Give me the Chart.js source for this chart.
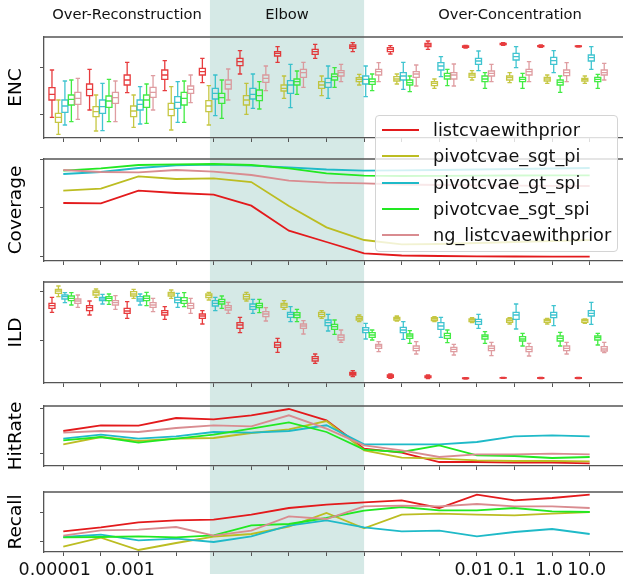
<!DOCTYPE html>
<html>
<head>
<meta charset="utf-8">
<script src="https://cdn.jsdelivr.net/npm/chart.js@4.4.1/dist/chart.umd.min.js"></script>
<style>
body { margin: 0; background: #fff; }
#fig { position: relative; width: 623px; height: 585px; overflow: hidden; font-family: "DejaVu Sans", sans-serif; }
#fig canvas { position: absolute; left: 0; }
#legend { position: absolute; left: 375px; top: 115px; width: 243px; height: 137px; box-sizing: border-box;
  background: rgba(255,255,255,0.8); border: 1px solid #d4d4d4; border-radius: 4px; z-index: 5; }
.item { position: absolute; left: 0; height: 22px; line-height: 22px; font-size: 17.7px; color: #111; white-space: nowrap; }
.item .swatch { position: absolute; left: 6px; top: 10px; width: 37px; border-top: 2px solid; }
.item .txt { position: absolute; left: 57px; top: 0; }
</style>
</head>
<body>
<div id="fig">
  <canvas id="c_enc" width="623" height="148" style="top:0px"></canvas>
  <canvas id="c_cov" width="623" height="123" style="top:148px"></canvas>
  <canvas id="c_ild" width="623" height="123" style="top:271px"></canvas>
  <canvas id="c_hit" width="623" height="84" style="top:394px"></canvas>
  <canvas id="c_rec" width="623" height="107" style="top:478px"></canvas>
  <div id="legend"></div>
</div>
<script>
// series
const seriesNames = ["listcvaewithprior", "pivotcvae_sgt_pi", "pivotcvae_gt_spi", "pivotcvae_sgt_spi", "ng_listcvaewithprior"];
const seriesColors = ["#e31a1c", "#bcbd22", "#1fbac8", "#22e822", "#d98c90"];

// x axis: 15 settings, only some labelled
const xPositions = [0, 1, 2, 3, 4, 5, 6, 7, 8, 9, 10, 11, 12, 13, 14];
const xTickLabels = ["0.00001  ", "", "0.001  ", "", "", "", "", "", "", "", "", "0.01", "0.1", "1.0", "10.0"];

// regimes along x (in x units)
const phaseNames = ["Over-Reconstruction", "Elbow", "Over-Concentration"];
const phaseBounds = [-0.513, 3.9, 8.0, 15.76];

// ENC boxes: [low whisker, q1, median, q3, high whisker]
const encListcvae = [
  [2.07,3.8,4.37,5.03,6.8],[2.8,4.23,4.87,5.4,6.87],[4.53,5.3,5.8,6.3,7.57],[4.73,5.87,6.3,6.8,7.73],
  [5.53,6.3,6.63,6.97,7.97],[6.4,7.23,7.63,7.97,8.73],[7.57,8.2,8.47,8.63,9.13],[7.97,8.37,8.63,8.87,9.37],
  [8.63,8.97,9.13,9.3,9.53],[8.4,8.63,8.87,9.03,9.23],[8.87,9.13,9.3,9.47,9.7],[9.0,9.07,9.13,9.2,9.27],
  [9.27,9.33,9.4,9.47,9.53],[9.07,9.13,9.2,9.23,9.3],[9.1,9.13,9.17,9.2,9.23]
];
const encSgtPi = [
  [0.37,1.57,2.07,2.47,3.8],[0.7,2.13,2.63,3.13,4.3],[1.07,2.13,2.7,3.2,4.3],[0.8,2.23,2.87,3.47,5.13],
  [1.3,2.63,3.2,3.73,5.23],[2.37,3.3,3.8,4.23,5.47],[3.97,4.7,4.97,5.3,6.2],[4.23,4.97,5.3,5.63,6.2],
  [5.3,5.63,5.87,6.03,6.37],[5.4,5.7,5.9,6.13,6.4],[4.97,5.23,5.47,5.63,5.9],[5.8,6.07,6.3,6.47,6.73],
  [5.53,5.8,6.03,6.2,6.53],[5.47,5.7,5.9,6.07,6.3],[5.47,5.7,5.87,5.97,6.2]
];
const encGtSpi = [
  [1.3,2.57,3.2,3.8,5.7],[0.73,2.47,3.13,3.8,5.47],[1.4,2.8,3.37,3.8,5.13],[1.57,2.97,3.57,4.13,5.63],
  [2.23,3.9,4.47,4.97,6.3],[2.97,3.9,4.37,4.97,6.4],[3.03,4.47,5.3,5.73,7.37],[3.97,5.07,5.53,5.97,7.2],
  [4.13,5.4,5.87,6.2,7.2],[4.87,5.8,6.2,6.53,7.57],[6.13,6.8,7.2,7.53,8.13],[6.73,7.37,7.7,7.97,8.7],
  [7.03,7.8,8.13,8.47,9.13],[6.53,7.37,7.73,8.07,8.73],[6.87,7.7,8.03,8.3,9.13]
];
const encSgtSpi = [
  [1.63,3.3,3.87,4.3,5.8],[1.63,3.07,3.7,4.2,5.87],[1.47,3.07,3.8,4.3,5.4],[1.57,3.3,3.97,4.57,5.7],
  [1.97,3.47,4.03,4.47,5.8],[2.9,3.73,4.23,4.8,5.63],[4.37,5.3,5.63,5.9,6.7],[5.07,5.8,6.13,6.4,7.03],
  [4.73,5.37,5.63,5.9,6.4],[4.63,5.3,5.53,5.8,6.2],[5.23,5.9,6.2,6.47,6.87],[4.97,5.63,5.9,6.2,6.53],
  [4.97,5.63,5.87,6.07,6.47],[4.57,5.3,5.57,5.8,6.2],[4.97,5.63,5.87,6.07,6.37]
];
const encNgListcvae = [
  [1.87,3.37,3.97,4.57,5.97],[1.63,3.47,4.03,4.57,5.7],[2.8,4.07,4.57,5.07,6.23],[3.53,4.47,4.87,5.2,6.3],
  [3.8,4.9,5.37,5.8,6.9],[4.73,5.57,5.97,6.3,7.2],[5.07,6.07,6.53,6.87,7.57],[5.63,6.2,6.53,6.73,7.37],
  [5.63,6.3,6.63,6.87,7.53],[5.2,6.07,6.4,6.63,7.3],[5.2,5.9,6.3,6.53,7.4],[5.63,6.2,6.47,6.7,7.37],
  [5.63,6.3,6.63,6.87,7.63],[5.63,6.23,6.53,6.8,7.53],[5.8,6.3,6.53,6.8,7.47]
];

// Coverage
const covListcvae = [5.8,5.77,7.03,6.8,6.63,5.53,3.03,1.9,0.77,0.55,0.5,0.47,0.45,0.44,0.43];
const covSgtPi = [7.03,7.23,8.47,8.2,8.27,7.9,5.5,3.37,2.1,1.67,1.7,1.8,1.9,2.0,2.1];
const covGtSpi = [8.7,8.9,9.3,9.57,9.63,9.53,9.37,9.15,9.03,9.07,9.1,9.15,9.2,9.25,9.3];
const covSgtSpi = [9.03,9.27,9.6,9.67,9.7,9.6,9.27,8.77,8.53,8.5,8.52,8.54,8.55,8.56,8.57];
const covNgListcvae = [9.1,8.9,8.87,9.1,8.93,8.6,8.03,7.83,7.77,7.65,7.6,7.57,7.54,7.52,7.5];

// ILD boxes
const ildListcvae = [
  [7.07,7.47,7.73,7.97,8.57],[6.8,7.23,7.53,7.73,8.2],[6.47,6.97,7.2,7.47,8.13],[6.37,6.8,7.03,7.23,7.63],
  [5.9,6.47,6.7,6.9,7.23],[5.03,5.47,5.8,6.03,6.57],[3.07,3.57,3.8,4.07,4.47],[1.97,2.2,2.43,2.63,2.9],
  [0.63,0.8,0.93,1.07,1.23],[0.47,0.57,0.7,0.8,0.9],[0.43,0.53,0.63,0.7,0.8],[0.4,0.43,0.47,0.5,0.53],
  [0.47,0.5,0.52,0.53,0.57],[0.44,0.47,0.5,0.53,0.56],[0.44,0.47,0.5,0.53,0.56]
];
const ildSgtPi = [
  [8.63,8.97,9.2,9.37,9.7],[8.57,8.8,9.03,9.2,9.4],[8.47,8.7,8.9,9.13,9.37],[8.47,8.7,8.9,9.07,9.3],
  [8.3,8.53,8.73,8.9,9.07],[8.2,8.4,8.63,8.87,9.07],[7.37,7.57,7.8,7.97,8.23],[6.47,6.63,6.87,7.07,7.23],
  [6.13,6.3,6.47,6.63,6.8],[6.2,6.3,6.47,6.57,6.7],[6.13,6.23,6.4,6.53,6.63],[6.03,6.13,6.3,6.4,6.53],
  [5.9,6.07,6.23,6.4,6.53],[5.9,6.07,6.23,6.37,6.47],[5.97,6.07,6.23,6.37,6.4]
];
const ildGtSpi = [
  [8.03,8.4,8.63,8.8,9.03],[7.9,8.23,8.4,8.57,8.87],[7.8,8.2,8.4,8.63,8.9],[7.57,8.03,8.3,8.57,8.97],
  [7.23,7.7,7.97,8.23,8.57],[6.97,7.37,7.63,7.9,8.37],[6.13,6.57,6.87,7.07,7.63],[5.2,5.73,6.03,6.3,6.87],
  [4.4,5.03,5.3,5.53,5.97],[4.37,5.03,5.3,5.57,6.13],[4.57,5.37,5.7,6.03,6.57],[5.47,5.87,6.13,6.37,6.87],
  [5.4,6.37,6.8,7.07,7.9],[5.73,6.53,6.8,7.07,7.73],[5.87,6.7,6.97,7.23,8.07]
];
const ildSgtSpi = [
  [7.8,8.23,8.47,8.7,9.03],[7.87,8.23,8.47,8.63,8.9],[7.73,8.23,8.47,8.7,9.07],[7.63,7.97,8.23,8.53,9.03],
  [7.47,7.9,8.13,8.37,8.7],[7.03,7.53,7.73,7.97,8.37],[6.13,6.53,6.8,7.03,7.37],[4.87,5.37,5.63,5.87,6.3],
  [4.3,4.57,4.8,5.03,5.3],[3.97,4.47,4.7,4.9,5.23],[4.03,4.47,4.73,4.97,5.3],[3.97,4.4,4.63,4.8,5.13],
  [3.7,4.2,4.4,4.63,4.97],[3.7,4.2,4.47,4.7,5.07],[3.8,4.3,4.53,4.7,4.97]
];
const ildNgListcvae = [
  [7.57,7.97,8.2,8.4,8.8],[7.37,7.8,8.03,8.23,8.73],[7.13,7.57,7.8,8.03,8.47],[6.97,7.47,7.73,7.97,8.47],
  [6.97,7.3,7.53,7.73,8.07],[6.2,6.63,6.9,7.13,7.53],[4.9,5.47,5.7,5.9,6.23],[4.07,4.3,4.57,4.8,5.3],
  [3.13,3.47,3.7,3.87,4.13],[2.9,3.23,3.47,3.7,4.13],[2.8,3.13,3.37,3.57,3.87],[2.73,3.23,3.47,3.7,4.07],
  [2.7,3.13,3.37,3.63,3.97],[2.9,3.23,3.47,3.7,4.07],[3.03,3.2,3.4,3.63,4.07]
];

// HitRate
const hitListcvae = [3.5,4.07,4.04,4.8,4.67,5.07,5.7,4.57,1.74,1.34,0.4,0.4,0.34,0.34,0.27];
const hitSgtPi = [2.17,2.9,2.5,2.74,2.8,3.3,3.67,4.5,1.57,0.84,0.74,0.57,0.5,0.5,0.47];
const hitGtSpi = [2.74,3.14,2.74,2.97,3.4,3.34,3.5,4.07,2.17,2.17,2.17,2.4,2.97,3.07,2.97];
const hitSgtSpi = [2.57,2.9,2.34,2.74,3.14,3.74,4.37,3.4,1.64,1.4,2.07,1.07,1.0,0.8,0.9];
const hitNgListcvae = [3.34,3.5,3.4,3.8,4.07,3.97,5.07,3.74,2.07,1.57,0.9,1.17,1.17,1.24,1.17];

// Recall
const recListcvae = [2.06,2.46,2.96,3.16,3.23,3.73,4.4,4.73,4.96,5.16,4.4,5.73,5.16,5.4,5.73];
const recSgtPi = [0.53,1.43,0.2,0.9,1.53,1.8,2.53,3.9,2.36,3.73,3.83,3.73,3.66,3.83,4.0];
const recGtSpi = [1.5,1.73,1.16,1.33,1.0,1.56,2.63,3.16,2.46,2.06,2.13,1.56,2.0,2.3,1.8];
const recSgtSpi = [1.46,1.5,1.56,1.46,1.66,2.66,2.8,3.4,4.13,4.5,4.16,4.16,4.4,4.06,4.0];
const recNgListcvae = [1.63,2.16,2.23,2.5,1.63,2.13,3.56,3.3,4.56,4.63,4.56,4.8,4.56,4.56,4.4];

// unlabelled y ticks per panel
const encTicks = [2.4, 7.1];
const covTicks = [0.43, 5.33, 10.2];
const ildTicks = [4.23, 9.13];
const hitTicks = [1.27, 5.77];
const recTicks = [1.03, 3.93];

Chart.defaults.font.family = "'DejaVu Sans', sans-serif";
Chart.defaults.animation = false;

const spineColor = "#555";
const shadeColor = "rgba(47,143,130,0.2)";
const xMin = -0.513, xMax = 14.886;
const boxStep = 0.172, groupShift = 0.043, boxHalf = 0.08, capHalf = 0.058;

function makePlugins(panel) {
  const list = [];
  list.push({
    id: "elbowShade",
    beforeDraw(chart) {
      const x = chart.scales.x, ctx = chart.ctx;
      const x0 = x.getPixelForValue(phaseBounds[1]);
      const x1 = x.getPixelForValue(phaseBounds[2]);
      ctx.save();
      ctx.fillStyle = shadeColor;
      ctx.fillRect(x0, 0, x1 - x0, panel.shadeBottom || chart.height);
      ctx.restore();
    }
  });
  list.push({
    id: "topSpine",
    afterDraw(chart) {
      const a = chart.chartArea, ctx = chart.ctx;
      ctx.save();
      ctx.strokeStyle = spineColor;
      ctx.lineWidth = 1.3;
      ctx.beginPath();
      ctx.moveTo(a.left, a.top);
      ctx.lineTo(chart.width, a.top);
      ctx.stroke();
      ctx.restore();
    }
  });
  if (panel.boxes) {
    list.push({
      id: "boxPlot",
      afterDatasetsDraw(chart) {
        const x = chart.scales.x, y = chart.scales.y, ctx = chart.ctx;
        ctx.save();
        ctx.lineWidth = 1.3;
        ctx.globalAlpha = 0.85;
        panel.boxes.forEach(function(boxes, s) {
          ctx.strokeStyle = seriesColors[s];
          boxes.forEach(function(b, i) {
            const c = i + groupShift + (s - 2) * boxStep;
            const xc = x.getPixelForValue(c);
            const hw = x.getPixelForValue(c + boxHalf) - xc;
            const cw = x.getPixelForValue(c + capHalf) - xc;
            const lo = y.getPixelForValue(b[0]), q1 = y.getPixelForValue(b[1]);
            const med = y.getPixelForValue(b[2]), q3 = y.getPixelForValue(b[3]);
            const hi = y.getPixelForValue(b[4]);
            ctx.beginPath();
            ctx.moveTo(xc, lo); ctx.lineTo(xc, q1);
            ctx.moveTo(xc, q3); ctx.lineTo(xc, hi);
            ctx.moveTo(xc - cw, lo); ctx.lineTo(xc + cw, lo);
            ctx.moveTo(xc - cw, hi); ctx.lineTo(xc + cw, hi);
            ctx.moveTo(xc - hw, med); ctx.lineTo(xc + hw, med);
            ctx.rect(xc - hw, q3, 2 * hw, q1 - q3);
            ctx.stroke();
          });
        });
        ctx.restore();
      }
    });
  }
  if (panel.phases) {
    list.push({
      id: "phaseTitles",
      afterDraw(chart) {
        const x = chart.scales.x, ctx = chart.ctx;
        ctx.save();
        ctx.fillStyle = "#111";
        ctx.font = "14.7px 'DejaVu Sans'";
        ctx.textAlign = "center";
        ctx.textBaseline = "middle";
        for (let k = 0; k < phaseNames.length; k++) {
          const cx = (x.getPixelForValue(phaseBounds[k]) + x.getPixelForValue(phaseBounds[k + 1])) / 2;
          ctx.fillText(phaseNames[k], cx, 15);
        }
        ctx.restore();
      }
    });
  }
  return list;
}

function lineSets(arrays) {
  return arrays.map(function(vals, s) {
    return {
      label: seriesNames[s],
      data: vals.map(function(v, i) { return {x: xPositions[i], y: v}; }),
      borderColor: seriesColors[s],
      borderWidth: 1.8,
      pointRadius: 0,
      tension: 0,
      fill: false,
      order: 4 - s
    };
  });
}

function makeChart(panel) {
  return new Chart(document.getElementById(panel.canvas), {
    type: "line",
    data: { datasets: panel.lines ? lineSets(panel.lines) : [] },
    options: {
      responsive: false,
      devicePixelRatio: 1,
      layout: { padding: { top: panel.padTop, left: 0, right: 0, bottom: 0 } },
      plugins: { legend: { display: false }, tooltip: { enabled: false } },
      scales: {
        x: {
          type: "linear", min: xMin, max: xMax,
          afterBuildTicks: function(s) { s.ticks = xPositions.map(function(v) { return {value: v}; }); },
          afterFit: function(s) { s.height = panel.axisH; },
          ticks: {
            autoSkip: false, minRotation: 0, maxRotation: 0, padding: 4, labelOffset: -3,
            color: "#111", font: { size: 17.5 },
            callback: function(v) { return panel.labels ? xTickLabels[Math.round(v)] : ""; }
          },
          grid: { drawOnChartArea: false, drawTicks: true, tickLength: 4, color: spineColor, lineWidth: 1 },
          border: { display: true, color: spineColor, width: 1.3 }
        },
        y: {
          type: "linear", min: panel.range[0], max: panel.range[1],
          afterBuildTicks: function(s) { s.ticks = panel.ticks.map(function(v) { return {value: v}; }); },
          afterFit: function(s) { s.width = 44; },
          ticks: { callback: function() { return ""; }, padding: 0 },
          grid: { drawOnChartArea: false, drawTicks: true, tickLength: 4, color: spineColor, lineWidth: 1 },
          border: { display: true, color: spineColor, width: 1.3 },
          title: { display: true, text: panel.title, color: "#000", font: { size: 18.5 }, padding: { top: 5, bottom: 0 } }
        }
      }
    },
    plugins: makePlugins(panel)
  });
}

const panels = [
  { canvas: "c_enc", title: "ENC", padTop: 37, axisH: 10, range: [0, 10.1], ticks: encTicks, phases: true,
    boxes: [encListcvae, encSgtPi, encGtSpi, encSgtSpi, encNgListcvae] },
  { canvas: "c_cov", title: "Coverage", padTop: 11, axisH: 10, range: [0, 10.2], ticks: covTicks,
    lines: [covListcvae, covSgtPi, covGtSpi, covSgtSpi, covNgListcvae] },
  { canvas: "c_ild", title: "ILD", padTop: 11, axisH: 11, range: [0, 10.1], ticks: ildTicks,
    boxes: [ildListcvae, ildSgtPi, ildGtSpi, ildSgtSpi, ildNgListcvae] },
  { canvas: "c_hit", title: "HitRate", padTop: 12, axisH: 12, range: [0, 6.0], ticks: hitTicks,
    lines: [hitListcvae, hitSgtPi, hitGtSpi, hitSgtSpi, hitNgListcvae] },
  { canvas: "c_rec", title: "Recall", padTop: 14, axisH: 33, range: [0, 6.0], ticks: recTicks, labels: true, shadeBottom: 96,
    lines: [recListcvae, recSgtPi, recGtSpi, recSgtSpi, recNgListcvae] }
];

const charts = [];
for (let i = 0; i < panels.length; i++) {
  charts.push(makeChart(panels[i]));
}

// legend
const legend = document.getElementById("legend");
for (let s = 0; s < seriesNames.length; s++) {
  const item = document.createElement("div");
  item.setAttribute("class", "item");
  item.style.top = (15 + s * 26.3 - 11 - 1) + "px";
  const sw = document.createElement("div");
  sw.setAttribute("class", "swatch");
  sw.style.borderColor = seriesColors[s];
  const txt = document.createElement("span");
  txt.setAttribute("class", "txt");
  txt.appendChild(document.createTextNode(seriesNames[s]));
  item.appendChild(sw);
  item.appendChild(txt);
  legend.appendChild(item);
}
</script>
</body>
</html>
